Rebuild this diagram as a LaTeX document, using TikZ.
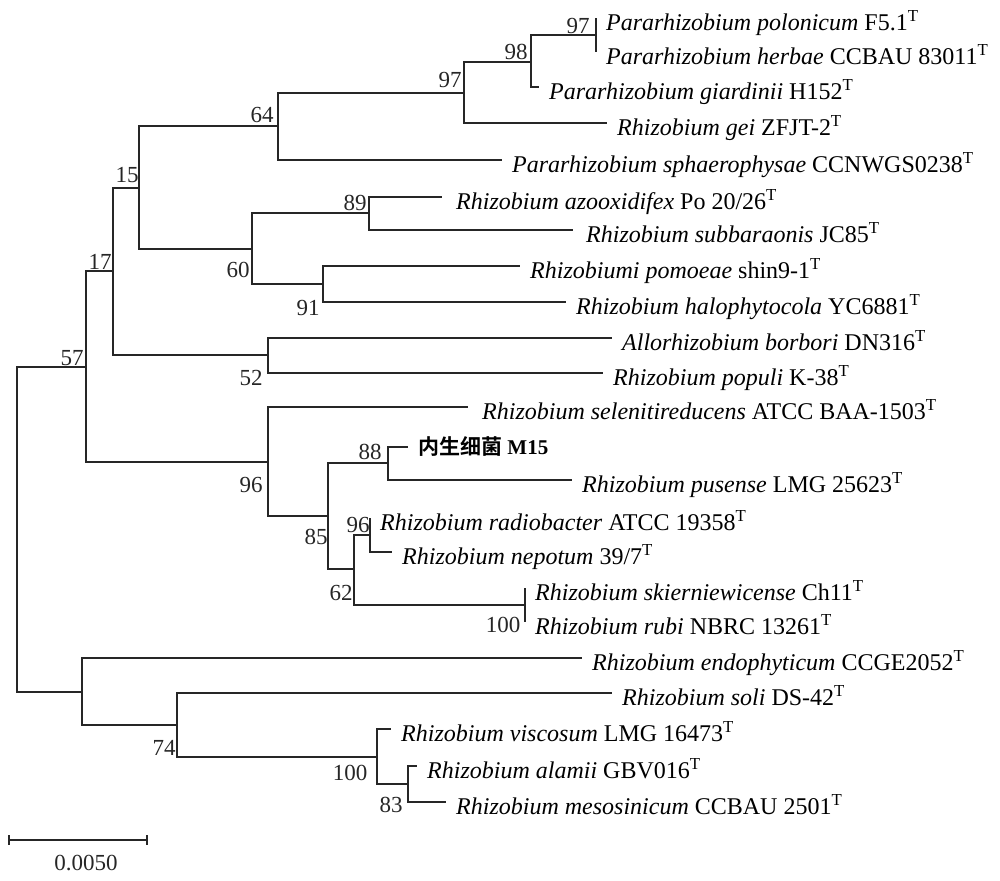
\documentclass[tikz,border=0pt]{standalone}
\usepackage{fontspec}
\setmainfont{Liberation Serif}
\newfontfamily\cjk{Noto Sans CJK SC}[BoldFont={Noto Sans CJK SC Bold}]

\tikzset{
  branch/.style={line width=1.5pt, black!85},
  taxon/.style={anchor=west, inner xsep=10pt, inner ysep=0pt, text height=31pt, text depth=6pt,
    font=\fontsize{24}{27}\selectfont},
  boot/.style={inner sep=0pt, font=\fontsize{23}{25}\selectfont, black!85}
}

\begin{document}
\begin{tikzpicture}[x=1pt, y=-1pt]
\useasboundingbox (0,0) rectangle (1000,880);

% inner nodes of the tree
\coordinate (root) at (17,529);
\coordinate (n57) at (86,367);
\coordinate (n17) at (113,271);
\coordinate (n15) at (139,188);
\coordinate (n64) at (278,126);
\coordinate (n97b) at (464,93);
\coordinate (n98) at (531,62);
\coordinate (n97a) at (596,35);
\coordinate (n60) at (252,249);
\coordinate (n89) at (369,213);
\coordinate (n91) at (323,284);
\coordinate (n52) at (268,355);
\coordinate (n96a) at (268,462);
\coordinate (n85) at (328,516);
\coordinate (n88) at (388,463);
\coordinate (n62) at (354,569);
\coordinate (n96b) at (370,535);
\coordinate (n100b) at (525,605);
\coordinate (nL) at (82,692);
\coordinate (n74) at (177,725);
\coordinate (n100c) at (377,757);
\coordinate (n83) at (408,784);

% taxa
\node[taxon] (polonicum) at (596,18) {\textit{Pararhizobium polonicum} F5.1\textsuperscript{T}};
\node[taxon] (herbae) at (596,52) {\textit{Pararhizobium herbae} CCBAU 83011\textsuperscript{T}};
\node[taxon] (giardinii) at (539,87) {\textit{Pararhizobium giardinii} H152\textsuperscript{T}};
\node[taxon] (gei) at (607,123) {\textit{Rhizobium gei} ZFJT-2\textsuperscript{T}};
\node[taxon] (sphaerophysae) at (502,160) {\textit{Pararhizobium sphaerophysae} CCNWGS0238\textsuperscript{T}};
\node[taxon, inner xsep=14pt] (azooxidifex) at (442,197) {\textit{Rhizobium azooxidifex} Po 20/26\textsuperscript{T}};
\node[taxon, inner xsep=13pt] (subbaraonis) at (573,230) {\textit{Rhizobium subbaraonis} JC85\textsuperscript{T}};
\node[taxon] (pomoeae) at (520,266) {\textit{Rhizobiumi pomoeae} shin9-1\textsuperscript{T}};
\node[taxon] (halophytocola) at (566,302) {\textit{Rhizobium halophytocola} YC6881\textsuperscript{T}};
\node[taxon] (borbori) at (612,338) {\textit{Allorhizobium borbori} DN316\textsuperscript{T}};
\node[taxon] (populi) at (603,373) {\textit{Rhizobium populi} K-38\textsuperscript{T}};
\node[taxon, inner xsep=14pt] (selenitireducens) at (468,407) {\textit{Rhizobium selenitireducens} ATCC BAA-1503\textsuperscript{T}};
\node[taxon, text height=21pt, font=\fontsize{21}{24}\selectfont] (m15) at (408,447) {{\cjk\bfseries 内生细菌} \textbf{M15}};
\node[taxon] (pusense) at (572,480) {\textit{Rhizobium pusense} LMG 25623\textsuperscript{T}};
\node[taxon] (radiobacter) at (370,518) {\textit{Rhizobium radiobacter} ATCC 19358\textsuperscript{T}};
\node[taxon] (nepotum) at (392,552) {\textit{Rhizobium nepotum} 39/7\textsuperscript{T}};
\node[taxon] (skierniewicense) at (525,588) {\textit{Rhizobium skierniewicense} Ch11\textsuperscript{T}};
\node[taxon] (rubi) at (525,622) {\textit{Rhizobium rubi} NBRC 13261\textsuperscript{T}};
\node[taxon] (endophyticum) at (582,658) {\textit{Rhizobium endophyticum} CCGE2052\textsuperscript{T}};
\node[taxon] (soli) at (612,693) {\textit{Rhizobium soli} DS-42\textsuperscript{T}};
\node[taxon] (viscosum) at (391,729) {\textit{Rhizobium viscosum} LMG 16473\textsuperscript{T}};
\node[taxon] (alamii) at (417,766) {\textit{Rhizobium alamii} GBV016\textsuperscript{T}};
\node[taxon] (mesosinicum) at (446,802) {\textit{Rhizobium mesosinicum} CCBAU 2501\textsuperscript{T}};

% branches
\draw[branch] (root) |- (n57);
\draw[branch] (root) |- (nL);
\draw[branch] (n57) |- (n17);
\draw[branch] (n57) |- (n96a);
\draw[branch] (n17) |- (n15);
\draw[branch] (n17) |- (n52);
\draw[branch] (n15) |- (n64);
\draw[branch] (n15) |- (n60);
\draw[branch] (n64) |- (n97b);
\draw[branch] (n64) |- (sphaerophysae.west);
\draw[branch] (n97b) |- (n98);
\draw[branch] (n97b) |- (gei.west);
\draw[branch] (n98) |- (n97a);
\draw[branch] (n98) |- (giardinii.west);
\draw[branch] (n97a) |- (polonicum.west);
\draw[branch] (n97a) |- (herbae.west);
\draw[branch] (n60) |- (n89);
\draw[branch] (n60) |- (n91);
\draw[branch] (n89) |- (azooxidifex.west);
\draw[branch] (n89) |- (subbaraonis.west);
\draw[branch] (n91) |- (pomoeae.west);
\draw[branch] (n91) |- (halophytocola.west);
\draw[branch] (n52) |- (borbori.west);
\draw[branch] (n52) |- (populi.west);
\draw[branch] (n96a) |- (selenitireducens.west);
\draw[branch] (n96a) |- (n85);
\draw[branch] (n85) |- (n88);
\draw[branch] (n85) |- (n62);
\draw[branch] (n88) |- (m15.west);
\draw[branch] (n88) |- (pusense.west);
\draw[branch] (n62) |- (n96b);
\draw[branch] (n62) |- (n100b);
\draw[branch] (n96b) |- (radiobacter.west);
\draw[branch] (n96b) |- (nepotum.west);
\draw[branch] (n100b) |- (skierniewicense.west);
\draw[branch] (n100b) |- (rubi.west);
\draw[branch] (nL) |- (endophyticum.west);
\draw[branch] (nL) |- (n74);
\draw[branch] (n74) |- (soli.west);
\draw[branch] (n74) |- (n100c);
\draw[branch] (n100c) |- (viscosum.west);
\draw[branch] (n100c) |- (n83);
\draw[branch] (n83) |- (alamii.west);
\draw[branch] (n83) |- (mesosinicum.west);

% bootstrap values
\node[boot] (b97a) at (578,26) {97};
\node[boot] (b98) at (516,52) {98};
\node[boot] (b97b) at (450,80) {97};
\node[boot] (b64) at (262,115) {64};
\node[boot] (b15) at (127,175) {15};
\node[boot] (b17) at (100,262) {17};
\node[boot] (b57) at (72,358) {57};
\node[boot] (b89) at (355,203) {89};
\node[boot] (b60) at (238,270) {60};
\node[boot] (b91) at (308,308) {91};
\node[boot] (b52) at (251,378) {52};
\node[boot] (b96a) at (251,485) {96};
\node[boot] (b88) at (370,452) {88};
\node[boot] (b85) at (316,537) {85};
\node[boot] (b96b) at (358,525) {96};
\node[boot] (b62) at (341,593) {62};
\node[boot] (b100b) at (503,625) {100};
\node[boot] (b74) at (164,748) {74};
\node[boot] (b100c) at (350,773) {100};
\node[boot] (b83) at (391,805) {83};

% scale bar
\coordinate (barL) at (9,840);
\coordinate (barR) at (147,840);
\draw[branch] (barL) -- (barR);
\draw[branch] ([yshift=5pt]barL) -- ([yshift=-5pt]barL);
\draw[branch] ([yshift=5pt]barR) -- ([yshift=-5pt]barR);
\node[boot] (barlabel) at (86,863) {0.0050};
\end{tikzpicture}
\end{document}
